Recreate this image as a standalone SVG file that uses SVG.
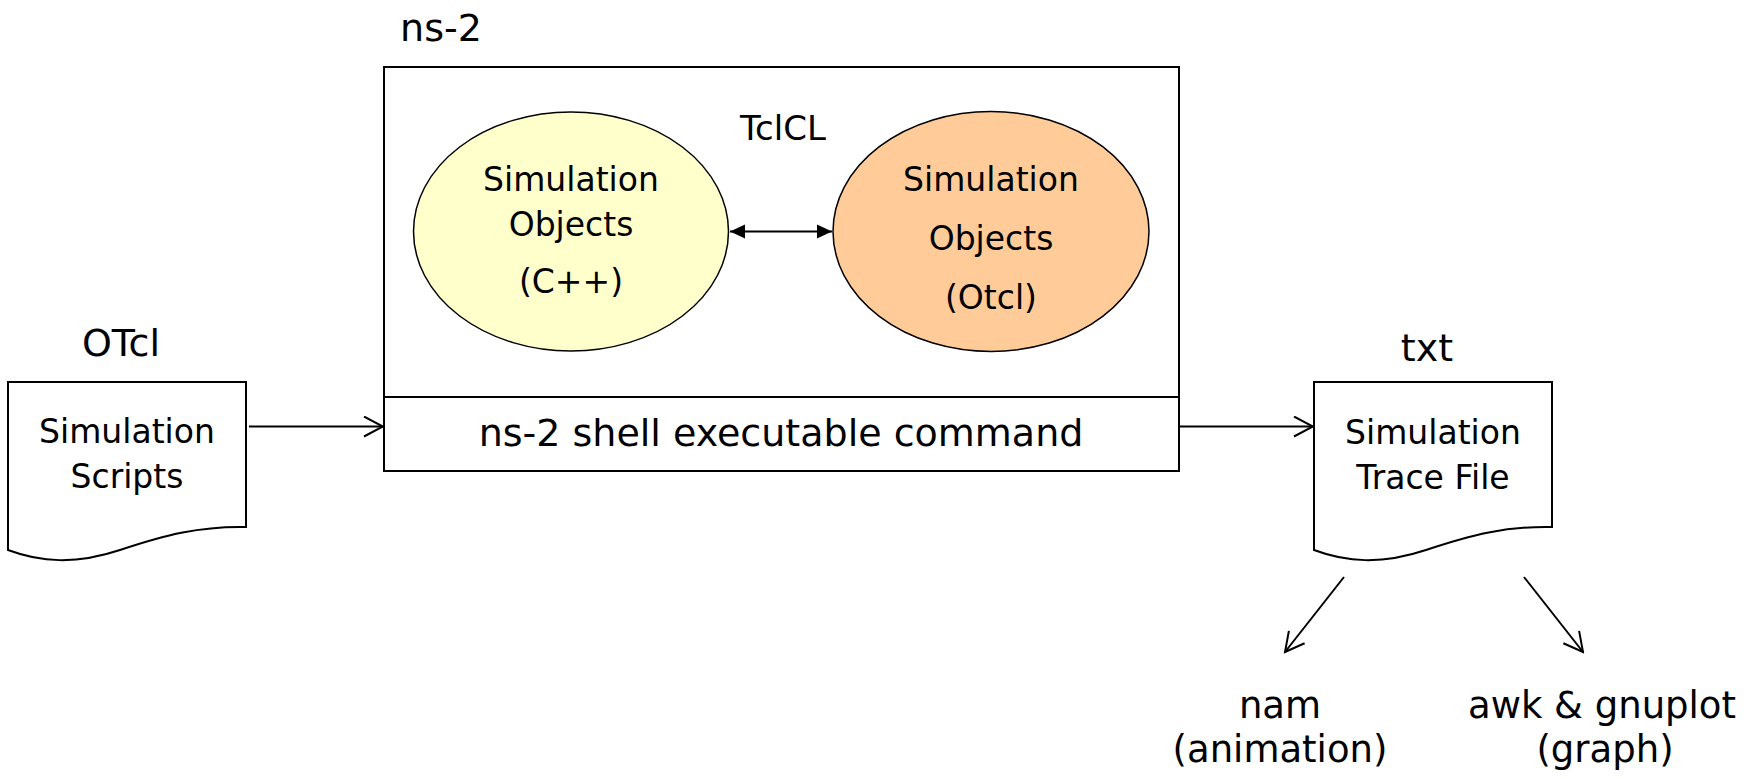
<svg xmlns="http://www.w3.org/2000/svg" width="1757" height="779" viewBox="0 0 1757 779">
<style>
text{font-family:"DejaVu Sans","Noto Sans",sans-serif;fill:#000;text-anchor:middle}
.big{font-size:38px}
.mid{font-size:33px}
.lbl{font-size:37px}
.sh{fill:none;stroke:#000;stroke-width:2}
.doc{fill:#fff;stroke:#000;stroke-width:2}
.cn{fill:none;stroke:#000;stroke-width:2}
</style>
<defs>
<marker id="open" markerUnits="userSpaceOnUse" viewBox="0 0 22 22" refX="20" refY="11" markerWidth="22" markerHeight="22" orient="auto">
<path d="M1,1 L20,11 L1,21" fill="none" stroke="#000" stroke-width="2"/>
</marker>
<marker id="solid" markerUnits="userSpaceOnUse" viewBox="0 0 16 16" refX="15" refY="8" markerWidth="16" markerHeight="16" orient="auto-start-reverse">
<path d="M0,1 L15,8 L0,15 Z" fill="#000"/>
</marker>
<path id="docshape" d="M8,382 H246 V527 C200,526 165,535 120,550 C75,565 40,562 8,550 Z"/>
</defs>
<rect width="1757" height="779" fill="#fff"/>

<g id="ns2">
<text class="big" x="441" y="41">ns-2</text>
<rect class="sh" x="384" y="67" width="795" height="404"/>
<line class="sh" x1="384" y1="397" x2="1179" y2="397"/>
<text class="big" x="781" y="446">ns-2 shell executable command</text>
<text class="mid" x="783" y="140" style="font-size:34px">TclCL</text>
</g>

<g id="cpp">
<ellipse cx="571" cy="231.5" rx="157.5" ry="119.5" fill="#FFFFCC" stroke="#000" stroke-width="1.5"/>
<text class="mid" x="571" y="191">Simulation</text>
<text class="mid" x="571" y="236">Objects</text>
<text class="mid" x="571" y="293">(C++)</text>
</g>

<g id="otcl">
<ellipse cx="991" cy="231.5" rx="158" ry="120" fill="#FFCC99" stroke="#000" stroke-width="1.5"/>
<text class="mid" x="991" y="191">Simulation</text>
<text class="mid" x="991" y="250">Objects</text>
<text class="mid" x="991" y="309">(Otcl)</text>
</g>

<g id="scripts">
<text class="big" x="121" y="356">OTcl</text>
<use href="#docshape" class="doc"/>
<text class="mid" x="127" y="443">Simulation</text>
<text class="mid" x="127" y="488">Scripts</text>
</g>

<g id="trace">
<text class="big" x="1427" y="361">txt</text>
<use href="#docshape" class="doc" transform="translate(1306,0)"/>
<text class="mid" x="1433" y="444">Simulation</text>
<text class="mid" x="1433" y="489">Trace File</text>
</g>

<g id="nam">
<text class="lbl" x="1280" y="718">nam</text>
<text class="lbl" x="1280" y="762">(animation)</text>
</g>

<g id="awk">
<text class="lbl" x="1602" y="718">awk &amp; gnuplot</text>
<text class="lbl" x="1605" y="762">(graph)</text>
</g>

<g id="connectors">
<line class="cn" x1="249" y1="426.5" x2="383" y2="426.5" marker-end="url(#open)"/>
<line class="cn" x1="1180" y1="426.5" x2="1313" y2="426.5" marker-end="url(#open)"/>
<line class="cn" x1="730" y1="231.5" x2="832" y2="231.5" marker-start="url(#solid)" marker-end="url(#solid)"/>
<line class="cn" x1="1344" y1="577" x2="1285" y2="652" marker-end="url(#open)"/>
<line class="cn" x1="1524" y1="577" x2="1583" y2="652" marker-end="url(#open)"/>
</g>
</svg>
